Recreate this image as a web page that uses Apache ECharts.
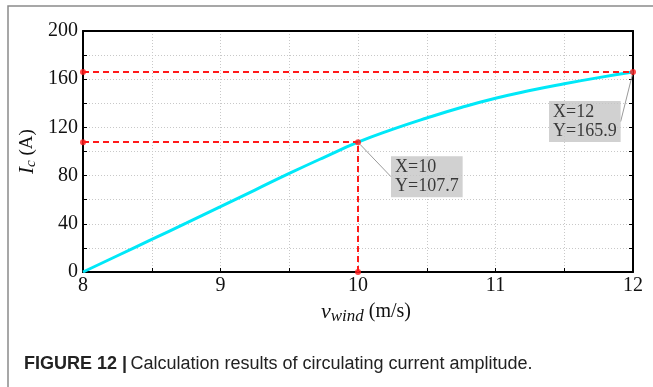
<!DOCTYPE html>
<html>
<head>
<meta charset="utf-8">
<script src="https://cdn.jsdelivr.net/npm/echarts@6/dist/echarts.min.js"></script>
<style>
  html, body { margin: 0; padding: 0; background: #fff; }
  #chart-target { width: 653px; height: 387px; }
</style>
</head>
<body>
<div id="chart-target"></div>
<script>
  // wind speed (m/s) and circulating current amplitude (A)
  var windSpeed = [8, 8.25, 8.5, 8.75, 9, 9.25, 9.5, 9.75, 10, 10.25, 10.5, 10.75, 11, 11.25, 11.5, 11.75, 12];
  var current   = [0, 13.5, 27, 40.5, 54.2, 68, 81.8, 95, 107.7, 118.3, 127.8, 136.5, 144.2, 150.6, 156.2, 161.3, 165.9];

  // marked points
  var markX = [10, 12];
  var markY = [107.7, 165.9];

  var xTicks = [8, 9, 10, 11, 12];
  var yTicks = [0, 40, 80, 120, 160, 200];

  var serif = "'Liberation Serif', 'Times New Roman', serif";
  var red = '#ff1a1a';
  var gridLine = { show: true, lineStyle: { color: '#c8c8c8', type: [1, 2], width: 1 } };

  var lineData = windSpeed.map(function (x, i) { return [x, current[i]]; });

  // dashed guide lines and end dots
  var guides = [];
  var dots = [];
  markX.forEach(function (x, i) {
    var y = markY[i];
    guides.push([{ coord: [xTicks[0], y] }, { coord: [x, y] }]);
    dots.push([xTicks[0], y]);
    if (x < xTicks[xTicks.length - 1]) {
      guides.push([{ coord: [x, yTicks[0]] }, { coord: [x, y] }]);
      dots.push([x, yTicks[0]]);
    }
  });

  var labelOffsets = [[33, 14], [-84, 29]];
  var notes = markX.map(function (x, i) {
    return {
      value: [x, markY[i]],
      label: { formatter: 'X=' + x + '\nY=' + markY[i] }
    };
  });

  var myChart = echarts.init(document.getElementById('chart-target'), null, { renderer: 'canvas' });
  myChart.setOption({
    animation: false,
    grid: { left: 83, right: 20, top: 31, bottom: 115 },
    xAxis: [
      {
        type: 'value',
        min: xTicks[0],
        max: xTicks[xTicks.length - 1],
        interval: 1,
        name: '{v|v}{s|wind}{n| (m/s)}',
        nameLocation: 'middle',
        nameGap: 27,
        nameTextStyle: {
          padding: [0, 0, 0, 16],
          rich: {
            v: { fontFamily: serif, fontStyle: 'italic', fontSize: 22, color: '#111' },
            s: { fontFamily: serif, fontStyle: 'italic', fontSize: 17, color: '#111', padding: [9, 0, 0, 0] },
            n: { fontFamily: serif, fontSize: 20, color: '#111' }
          }
        },
        axisLine: { lineStyle: { color: '#000', width: 2 } },
        axisTick: { inside: true, length: 4, lineStyle: { color: '#000' } },
        minorTick: { show: true, splitNumber: 2, length: 4, lineStyle: { color: '#000' } },
        axisLabel: { fontFamily: serif, fontSize: 20, color: '#111', margin: 4 },
        splitLine: gridLine,
        minorSplitLine: gridLine
      },
      {
        type: 'value',
        position: 'top',
        min: xTicks[0],
        max: xTicks[xTicks.length - 1],
        axisLine: { show: true, onZero: false, lineStyle: { color: '#000', width: 2 } },
        axisTick: { show: false },
        axisLabel: { show: false },
        splitLine: { show: false }
      }
    ],
    yAxis: [
      {
        type: 'value',
        min: yTicks[0],
        max: yTicks[yTicks.length - 1],
        interval: 40,
        name: '{i|I}{s|c}{n| (A)}',
        nameLocation: 'middle',
        nameGap: 44,
        nameMoveOverlap: false,
        nameTextStyle: {
          rich: {
            i: { fontFamily: serif, fontStyle: 'italic', fontSize: 21, color: '#111' },
            s: { fontFamily: serif, fontStyle: 'italic', fontSize: 15, color: '#111', padding: [9, 0, 0, 0] },
            n: { fontFamily: serif, fontSize: 19, color: '#111' }
          }
        },
        axisLine: { show: true, lineStyle: { color: '#000', width: 2 } },
        axisTick: { inside: true, length: 4, lineStyle: { color: '#000' } },
        minorTick: { show: true, splitNumber: 2, length: 4, lineStyle: { color: '#000' } },
        axisLabel: { fontFamily: serif, fontSize: 20, color: '#111', margin: 5 },
        splitLine: gridLine,
        minorSplitLine: gridLine
      },
      {
        type: 'value',
        position: 'right',
        min: yTicks[0],
        max: yTicks[yTicks.length - 1],
        interval: 40,
        axisLine: { show: true, onZero: false, lineStyle: { color: '#000', width: 2 } },
        axisTick: { inside: true, length: 4, lineStyle: { color: '#000' } },
        minorTick: { show: true, splitNumber: 2, length: 4, lineStyle: { color: '#000' } },
        axisLabel: { show: false },
        splitLine: { show: false }
      }
    ],
    series: [
      {
        type: 'line',
        data: lineData,
        smooth: true,
        showSymbol: false,
        lineStyle: { color: '#00e8f8', width: 3 },
        z: 3,
        markLine: {
          silent: true,
          symbol: 'none',
          label: { show: false },
          lineStyle: { color: red, type: [6, 4], width: 2 },
          data: guides
        }
      },
      {
        type: 'scatter',
        data: dots,
        symbolSize: 6,
        itemStyle: { color: red },
        z: 4
      },
      {
        type: 'scatter',
        data: notes,
        symbolSize: 6,
        itemStyle: { color: red },
        z: 5,
        label: {
          show: true,
          position: 'inside',
          align: 'left',
          verticalAlign: 'top',
          fontFamily: serif,
          fontSize: 18,
          lineHeight: 19,
          color: '#111',
          backgroundColor: '#c6c6c6',
          padding: [2, 4, 1, 4]
        },
        labelLayout: function (params) {
          var o = labelOffsets[params.dataIndex];
          return { dx: o[0], dy: o[1] };
        },
        labelLine: { show: true, lineStyle: { color: '#9a9a9a', width: 1 } }
      }
    ],
    graphic: [
      {
        type: 'rect',
        shape: { x: 8, y: 6, width: 700, height: 420 },
        style: { fill: 'none', stroke: '#8a8a8a', lineWidth: 1.5 },
        silent: true
      },
      {
        type: 'text',
        left: 24,
        top: 355,
        style: {
          text: '{b|FIGURE 12 |} {r|Calculation results of circulating current amplitude.}',
          rich: {
            b: { fontFamily: "'Liberation Sans', Arial, sans-serif", fontWeight: 'bold', fontSize: 18, fill: '#222' },
            r: { fontFamily: "'Liberation Sans', Arial, sans-serif", fontSize: 18, fill: '#222' }
          }
        }
      }
    ]
  });
</script>
</body>
</html>
